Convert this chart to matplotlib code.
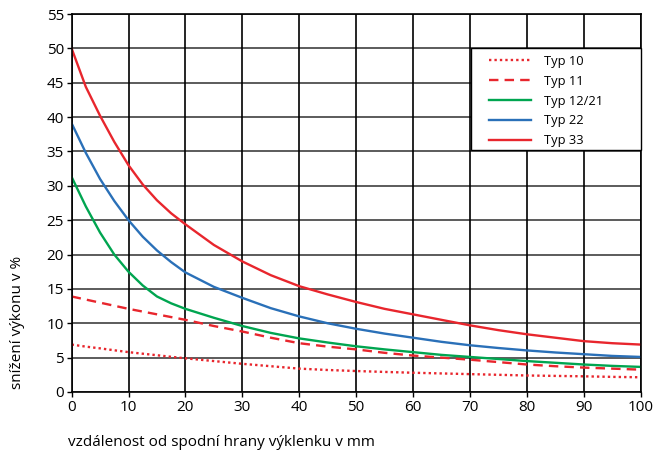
import matplotlib
matplotlib.use("Agg")
import matplotlib.pyplot as plt
from matplotlib.patches import Rectangle

# distance from the bottom edge of the niche, mm
x_dist = [0, 2.5, 5, 7.5, 10, 12.5, 15, 17.5, 20, 25, 30, 35, 40, 45, 50, 55, 60, 65, 70, 75, 80, 85, 90, 95, 100]

# reduction of heat output, %
typ33 = [50.0, 44.4, 40.2, 36.4, 33.0, 30.2, 27.9, 26.0, 24.4, 21.4, 19.0, 17.0, 15.4, 14.2, 13.1, 12.1, 11.3, 10.5, 9.7, 9.0, 8.4, 7.9, 7.4, 7.1, 6.9]
typ22 = [39.1, 34.8, 31.0, 27.8, 25.0, 22.6, 20.6, 18.9, 17.4, 15.3, 13.7, 12.2, 11.0, 10.0, 9.2, 8.5, 7.9, 7.3, 6.8, 6.4, 6.05, 5.75, 5.5, 5.25, 5.1]
typ12 = [31.3, 27.0, 23.2, 20.0, 17.5, 15.5, 13.9, 12.9, 12.1, 10.8, 9.6, 8.6, 7.8, 7.2, 6.65, 6.2, 5.8, 5.4, 5.1, 4.8, 4.5, 4.25, 4.0, 3.8, 3.65]
typ11 = [13.9, 13.45, 13.0, 12.55, 12.1, 11.7, 11.3, 10.9, 10.5, 9.6, 8.8, 7.9, 7.1, 6.6, 6.2, 5.7, 5.3, 5.0, 4.7, 4.35, 4.0, 3.75, 3.55, 3.4, 3.25]
typ10 = [6.9, 6.6, 6.35, 6.07, 5.8, 5.57, 5.35, 5.12, 4.9, 4.5, 4.1, 3.75, 3.4, 3.2, 3.05, 2.92, 2.8, 2.7, 2.6, 2.5, 2.4, 2.34, 2.28, 2.2, 2.14]

x_ticks = [0, 10, 20, 30, 40, 50, 60, 70, 80, 90, 100]
y_ticks = [0, 5, 10, 15, 20, 25, 30, 35, 40, 45, 50, 55]

RED = "#e8262d"
BLUE = "#2a70b8"
GREEN = "#00a550"

plt.rcParams["font.family"] = ["Open Sans", "DejaVu Sans"]

fig = plt.figure(figsize=(6.57, 4.54), dpi=100)
ax = fig.add_axes([0.109, 0.1366, 0.866, 0.8324])

lw = 1.7
ax.plot(x_dist, typ10, color=RED, lw=lw, linestyle=(0, (1, 1.3)), label="Typ 10")
ax.plot(x_dist, typ11, color=RED, lw=lw, linestyle=(0, (4, 2.6)), label="Typ 11")
ax.plot(x_dist, typ12, color=GREEN, lw=lw, label="Typ 12/21")
ax.plot(x_dist, typ22, color=BLUE, lw=lw, label="Typ 22")
ax.plot(x_dist, typ33, color=RED, lw=lw, label="Typ 33")

ax.set_xlim(0, 100)
ax.set_ylim(0, 55)
ax.set_xticks(x_ticks)
ax.set_yticks(y_ticks)
ax.tick_params(axis="both", labelsize=11, length=3.5, width=1, color="black", pad=2)

for y in y_ticks:
    ax.axhline(y, color="#404040", lw=1.2, zorder=0)
for x in x_ticks:
    ax.axvline(x, color="black", lw=1.2, zorder=0)

for side in ax.spines.values():
    side.set_linewidth(1.2)
    side.set_color("black")

# legend box
ax.add_patch(Rectangle((0.702, 0.640), 0.298, 0.269, transform=ax.transAxes,
                       facecolor="white", edgecolor="black", lw=1.0, zorder=4, clip_on=False))
leg = ax.legend(loc="upper left", bbox_to_anchor=(0.733, 0.892),
                prop={"size": 9.3},
                frameon=False, handlelength=3.25, handletextpad=1.0, borderpad=0,
                labelspacing=0.53, borderaxespad=0)
leg.set_zorder(5)

fig.text(0.027, 0.289, "snížení výkonu v %", rotation=90, ha="center", va="center", fontsize=11)
fig.text(0.104, 0.025, "vzdálenost od spodní hrany výklenku v mm", ha="left", va="center", fontsize=11)

fig.savefig("out.png", dpi=100)
